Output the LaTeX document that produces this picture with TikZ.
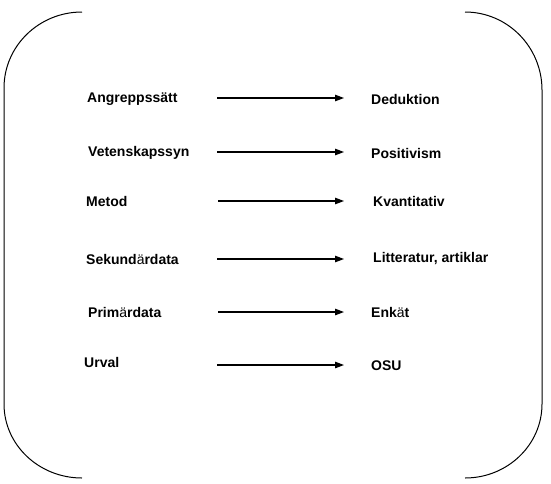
\documentclass[tikz,border=0pt]{standalone}
\usepackage{fontspec}
\setmainfont{Liberation Sans}
\usetikzlibrary{arrows.meta}
\begin{document}
\begin{tikzpicture}[x=1pt,y=-1pt,
  lbl/.style={anchor=west,inner sep=0pt,font=\fontsize{14}{16}\selectfont\bfseries},
  arr/.style={line width=1.1pt,-{Triangle[length=9pt,width=6.5pt]}},
  brk/.style={line width=1pt}]
\useasboundingbox (0,0) rectangle (551,483);
% brackets
\draw[brk] (82,12) arc[start angle=270,end angle=180,x radius=78,y radius=76] -- (4,404) arc[start angle=180,end angle=90,x radius=78,y radius=74];
\draw[brk] (465,12) arc[start angle=270,end angle=360,x radius=77,y radius=78] -- (542,404) arc[start angle=0,end angle=90,x radius=77,y radius=74];
% left labels
\node[lbl] (l1) at (87,99) {Angreppssätt};
\node[lbl] (l2) at (88,153) {Vetenskapssyn};
\node[lbl] (l3) at (86,201) {Metod};
\node[lbl] (l4) at (86,259) {Sekund{\mdseries ä}rdata};
\node[lbl] (l5) at (88,312) {Prim{\mdseries ä}rdata};
\node[lbl] (l6) at (84,362) {Urval};
% right labels
\node[lbl] (r1) at (371,99) {Deduktion};
\node[lbl] (r2) at (371,153) {Positivism};
\node[lbl] (r3) at (373,201) {Kvantitativ};
\node[lbl] (r4) at (373,259) {Litteratur, artiklar};
\node[lbl] (r5) at (371,312) {Enk{\mdseries ä}t};
\node[lbl] (r6) at (371,366) {OSU};
% arrow ends
\coordinate (s1) at (217,98);  \coordinate (e1) at (344,98);
\coordinate (s2) at (217,152); \coordinate (e2) at (344,152);
\coordinate (s3) at (218,201); \coordinate (e3) at (344,201);
\coordinate (s4) at (217,259); \coordinate (e4) at (344,259);
\coordinate (s5) at (218,312); \coordinate (e5) at (344,312);
\coordinate (s6) at (217,365); \coordinate (e6) at (344,365);
\foreach \i in {1,...,6} {\draw[arr] (s\i) -- (e\i);}
\end{tikzpicture}
\end{document}
